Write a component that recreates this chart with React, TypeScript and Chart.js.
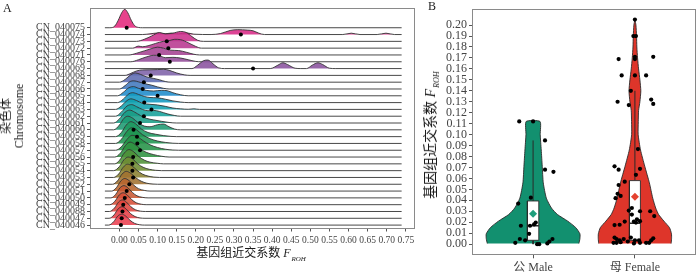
import React, { useEffect, useRef } from 'react';
import { Chart, registerables } from 'chart.js';

Chart.register(...registerables);

// ---------------- Panel A data ----------------
const CHROMOSOMES = [
  'CN_040075', 'CN_040074', 'CN_040073', 'CN_040072', 'CN_040071', 'CN_040076',
  'CN_040069', 'CN_040068', 'CN_040067', 'CN_040066', 'CN_040065', 'CN_040064',
  'CN_040063', 'CN_040062', 'CN_040061', 'CN_040060', 'CN_040059', 'CN_040058',
  'CN_040057', 'CN_040056', 'CN_040055', 'CN_040054', 'CN_040053', 'CN_040052',
  'CN_040051', 'CN_040050', 'CN_040049', 'CN_040088', 'CN_040047', 'CN_040046',
];

const X_TICKS_A = ['0.00', '0.05', '0.10', '0.15', '0.20', '0.25', '0.30', '0.35',
  '0.40', '0.45', '0.50', '0.55', '0.60', '0.65', '0.70', '0.75'];

const RIDGE_RANGE = [-0.038, 0.739];

// density outlines: [F_ROH, height in row units]
const D_040075 = [[-0.025, 0], [-0.012, 0.25], [-0.003, 1.1], [0.006, 2.2], [0.014, 2.7], [0.022, 2.2], [0.031, 1.1], [0.04, 0.3], [0.05, 0.04], [0.06, 0]];
const D_040074 = [[0.06, 0], [0.08, 0.1], [0.1, 0.22], [0.12, 0.12], [0.135, 0.2], [0.155, 0.1], [0.175, 0.25], [0.195, 0.05], [0.24, 0], [0.265, 0.15], [0.29, 0.6], [0.31, 0.72], [0.335, 0.65], [0.35, 0.55], [0.365, 0.2], [0.38, 0], [0.585, 0], [0.607, 0.2], [0.63, 0], [0.675, 0], [0.698, 0.2], [0.72, 0]];
const D_040073 = [[0.045, 0], [0.065, 0.3], [0.085, 0.8], [0.105, 1.3], [0.12, 1.1], [0.14, 1.2], [0.16, 1.45], [0.175, 1.3], [0.19, 0.7], [0.205, 0.15], [0.22, 0]];
const D_040072 = [[0.035, 0], [0.05, 0.3], [0.06, 0.2], [0.075, 0.35], [0.095, 0.7], [0.115, 1.0], [0.13, 1.1], [0.145, 1.3], [0.16, 1.25], [0.18, 0.8], [0.2, 0.25], [0.215, 0]];
const D_040071 = [[0.025, 0], [0.045, 0.25], [0.065, 0.6], [0.085, 0.95], [0.1, 1.15], [0.115, 1.0], [0.135, 0.7], [0.155, 0.65], [0.175, 0.4], [0.195, 0.1], [0.21, 0]];
const D_040076 = [[0.03, 0], [0.05, 0.3], [0.07, 0.7], [0.09, 0.95], [0.105, 0.9], [0.12, 0.6], [0.14, 0.65], [0.16, 0.55], [0.18, 0.3], [0.2, 0.05], [0.215, 0]];
const D_040069 = [[0.19, 0], [0.205, 0.5], [0.22, 1.15], [0.232, 1.25], [0.245, 0.7], [0.26, 0.1], [0.275, 0], [0.395, 0], [0.415, 0.5], [0.428, 0.85], [0.44, 0.6], [0.46, 0.05], [0.475, 0], [0.49, 0], [0.505, 0.5], [0.52, 0.85], [0.532, 0.6], [0.55, 0.05], [0.565, 0]];
const D_040068 = [[0.015, 0], [0.03, 0.3], [0.045, 0.65], [0.06, 0.8], [0.08, 0.82], [0.1, 0.85], [0.115, 0.9], [0.13, 0.75], [0.15, 0.35], [0.17, 0.08], [0.185, 0]];
const D_040067 = [[0.0, 0], [0.015, 0.4], [0.03, 1.1], [0.042, 1.35], [0.055, 1.15], [0.07, 0.8], [0.09, 0.55], [0.105, 0.35], [0.12, 0.1], [0.135, 0]];
const D_040066 = [[0.0, 0], [0.015, 0.5], [0.028, 1.1], [0.038, 1.2], [0.05, 1.05], [0.065, 0.8], [0.085, 0.55], [0.1, 0.3], [0.115, 0.1], [0.13, 0]];
const D_040065 = [[-0.005, 0], [0.01, 0.5], [0.025, 1.2], [0.037, 1.35], [0.05, 1.1], [0.07, 0.8], [0.09, 0.7], [0.11, 0.8], [0.125, 0.75], [0.14, 0.45], [0.16, 0.15], [0.18, 0]];
const D_040064 = [[-0.005, 0], [0.01, 0.5], [0.025, 1.3], [0.035, 1.45], [0.05, 1.2], [0.065, 0.9], [0.08, 0.75], [0.1, 0.7], [0.12, 0.5], [0.14, 0.25], [0.16, 0.08], [0.18, 0]];
const D_040063 = [[-0.01, 0], [0.005, 0.5], [0.02, 1.3], [0.03, 1.55], [0.045, 1.3], [0.06, 0.9], [0.08, 0.75], [0.1, 0.65], [0.12, 0.45], [0.14, 0.2], [0.16, 0.08], [0.18, 0.02], [0.195, 0.08], [0.21, 0]];
const D_040062 = [[-0.01, 0], [0.005, 0.6], [0.02, 1.5], [0.032, 1.7], [0.045, 1.4], [0.06, 1.0], [0.075, 0.8], [0.09, 0.85], [0.105, 0.7], [0.125, 0.35], [0.145, 0.1], [0.16, 0]];
const D_040061 = [[-0.015, 0], [0.0, 0.6], [0.015, 1.6], [0.027, 1.9], [0.04, 1.6], [0.055, 1.1], [0.07, 0.7], [0.09, 0.45], [0.11, 0.25], [0.13, 0.08], [0.15, 0]];
const D_040060 = [[-0.015, 0], [0.0, 0.7], [0.012, 1.7], [0.022, 2.0], [0.035, 1.7], [0.05, 1.0], [0.065, 0.55], [0.08, 0.45], [0.1, 0.75], [0.115, 0.85], [0.13, 0.45], [0.145, 0.1], [0.16, 0]];
const D_040059 = [[-0.01, 0], [0.005, 0.6], [0.018, 1.7], [0.03, 2.2], [0.042, 1.9], [0.058, 1.1], [0.075, 0.6], [0.095, 0.35], [0.115, 0.15], [0.135, 0.03], [0.15, 0]];
const D_040058 = [[-0.01, 0], [0.005, 0.6], [0.02, 1.8], [0.032, 2.3], [0.045, 2.0], [0.06, 1.3], [0.08, 0.7], [0.1, 0.35], [0.12, 0.15], [0.14, 0.03], [0.155, 0]];
const D_040057 = [[-0.01, 0], [0.005, 0.5], [0.02, 1.6], [0.033, 2.2], [0.047, 2.0], [0.062, 1.4], [0.08, 0.8], [0.1, 0.4], [0.12, 0.15], [0.14, 0.03], [0.155, 0]];
const D_040056 = [[-0.012, 0], [0.003, 0.6], [0.016, 1.7], [0.028, 2.2], [0.04, 1.9], [0.055, 1.2], [0.07, 0.7], [0.09, 0.35], [0.11, 0.12], [0.13, 0]];
const D_040055 = [[-0.012, 0], [0.0, 0.5], [0.013, 1.6], [0.025, 2.1], [0.037, 1.8], [0.05, 1.1], [0.065, 0.55], [0.08, 0.25], [0.1, 0.08], [0.115, 0]];
const D_040054 = [[-0.015, 0], [0.0, 0.6], [0.012, 1.6], [0.023, 2.0], [0.035, 1.7], [0.048, 1.0], [0.062, 0.5], [0.078, 0.2], [0.095, 0.05], [0.11, 0]];
const D_040053 = [[-0.015, 0], [-0.002, 0.5], [0.01, 1.5], [0.021, 1.95], [0.033, 1.7], [0.046, 1.05], [0.06, 0.5], [0.075, 0.2], [0.09, 0.05], [0.105, 0]];
const D_040052 = [[-0.018, 0], [-0.005, 0.5], [0.007, 1.5], [0.018, 1.9], [0.03, 1.6], [0.043, 0.95], [0.057, 0.45], [0.072, 0.15], [0.088, 0.03], [0.1, 0]];
const D_040051 = [[-0.02, 0], [-0.008, 0.5], [0.004, 1.5], [0.014, 1.85], [0.025, 1.55], [0.038, 0.85], [0.05, 0.35], [0.065, 0.1], [0.08, 0]];
const D_040050 = [[-0.022, 0], [-0.01, 0.5], [0.002, 1.5], [0.012, 1.8], [0.022, 1.5], [0.034, 0.8], [0.046, 0.3], [0.06, 0.08], [0.075, 0]];
const D_040049 = [[-0.025, 0], [-0.012, 0.5], [0.0, 1.45], [0.01, 1.75], [0.02, 1.45], [0.032, 0.75], [0.044, 0.28], [0.058, 0.06], [0.07, 0]];
const D_040088 = [[-0.026, 0], [-0.013, 0.5], [-0.002, 1.4], [0.008, 1.7], [0.018, 1.4], [0.03, 0.7], [0.042, 0.25], [0.055, 0.05], [0.068, 0]];
const D_040047 = [[-0.027, 0], [-0.014, 0.5], [-0.003, 1.4], [0.007, 1.7], [0.017, 1.4], [0.029, 0.7], [0.041, 0.25], [0.054, 0.05], [0.067, 0]];
const D_040046 = [[-0.028, 0], [-0.015, 0.5], [-0.004, 1.35], [0.006, 1.6], [0.016, 1.35], [0.028, 0.7], [0.04, 0.25], [0.053, 0.05], [0.066, 0]];

const RIDGES = [
  D_040075, D_040074, D_040073, D_040072, D_040071, D_040076, D_040069, D_040068,
  D_040067, D_040066, D_040065, D_040064, D_040063, D_040062, D_040061, D_040060,
  D_040059, D_040058, D_040057, D_040056, D_040055, D_040054, D_040053, D_040052,
  D_040051, D_040050, D_040049, D_040088, D_040047, D_040046,
];

const MEAN_FROH = [
  0.019, 0.318, 0.124, 0.128, 0.104, 0.132, 0.35, 0.082, 0.064, 0.061,
  0.10, 0.065, 0.084, 0.064, 0.054, 0.037, 0.046, 0.047, 0.054, 0.036,
  0.034, 0.034, 0.036, 0.026, 0.019, 0.014, 0.01, 0.008, 0.006, 0.004,
];

const RIDGE_COLORS = [
  '#E4287C', '#D82A86', '#CC308C', '#B8388F', '#A54292', '#934C98', '#8A529E', '#7E62A8',
  '#5F6CB2', '#4279BE', '#1E8BCB', '#1299C0', '#10A0AE', '#16A09A', '#1A9D86', '#1C9A72',
  '#1E9860', '#1F9550', '#249247', '#2E9240', '#4E9138', '#6E8C32', '#8A8030', '#A27230',
  '#B8652F', '#C85832', '#D64D37', '#E0443D', '#E63F46', '#EA4050',
];

// ---------------- Panel B data ----------------
const SEX_LABELS = ['公 Male', '母 Female'];
const Y_TICKS_B = ['0.00', '0.01', '0.02', '0.03', '0.04', '0.05', '0.06', '0.07', '0.08', '0.09',
  '0.10', '0.11', '0.12', '0.13', '0.14', '0.15', '0.16', '0.17', '0.18', '0.19', '0.20'];

const MALE_VIOLIN_Y = [0.0006, 0.005, 0.0094, 0.015, 0.021, 0.027, 0.033, 0.042, 0.056, 0.071, 0.086, 0.100, 0.112];
const MALE_VIOLIN_W = [0.45, 0.46, 0.46, 0.42, 0.34, 0.24, 0.18, 0.13, 0.10, 0.09, 0.08, 0.07, 0.068];
const FEMALE_VIOLIN_Y = [0.0006, 0.005, 0.0094, 0.015, 0.021, 0.027, 0.033, 0.042, 0.056, 0.071, 0.086, 0.100, 0.112, 0.122, 0.13, 0.14, 0.15, 0.16, 0.17, 0.18, 0.19, 0.20, 0.205];
const FEMALE_VIOLIN_W = [0.356, 0.36, 0.359, 0.34, 0.285, 0.233, 0.204, 0.175, 0.142, 0.097, 0.055, 0.032, 0.033, 0.036, 0.049, 0.058, 0.049, 0.036, 0.026, 0.019, 0.016, 0.01, 0.0];

// [min, q1, median, q3, upper whisker]
const MALE_BOX = [0.0, 0.0035, 0.0168, 0.0394, 0.0947];
const FEMALE_BOX = [0.0, 0.0035, 0.019, 0.058, 0.140];
const MALE_MEAN = 0.0277;
const FEMALE_MEAN = 0.0432;

const MALE_PTS_X = [0.864, 1.0, 1.117, 1.117, 1.2, 0.978, 0.854, 0.88, 0.97, 1.01, 1.026, 0.961, 0.87, 0.922, 0.825, 1.04, 1.06, 1.14, 1.16, 1.19];
const MALE_PTS_Y = [0.112, 0.112, 0.0947, 0.068, 0.066, 0.0424, 0.037, 0.0168, 0.0168, 0.018, 0.0197, 0.0094, 0.0047, 0.0035, 0.0012, 0.0, 0.0, 0.0006, 0.0024, 0.0047];
const FEMALE_PTS_X = [2.0, 1.985, 2.01, 1.84, 2.0, 2.0, 2.18, 1.87, 2.0, 2.11, 1.96, 1.83, 1.94, 2.16, 2.18, 2.03, 1.80, 1.84, 2.05, 2.01,
  1.90, 1.84, 1.83, 1.81, 1.86, 1.97, 1.94, 2.05, 2.15, 2.19, 1.97, 2.02, 2.05, 2.01, 1.99, 1.80, 1.85, 1.90, 1.80, 1.82,
  1.85, 1.89, 1.82, 1.86, 1.93, 1.96, 2.0, 2.04, 2.05, 2.11, 2.14, 2.16, 2.18, 1.79, 1.99];
const FEMALE_PTS_Y = [0.205, 0.190, 0.190, 0.169, 0.171, 0.169, 0.171, 0.154, 0.154, 0.154, 0.140, 0.130, 0.127, 0.132, 0.128, 0.0868, 0.071, 0.068, 0.0688, 0.0633,
  0.057, 0.054, 0.046, 0.042, 0.044, 0.033, 0.0306, 0.030, 0.030, 0.0256, 0.027, 0.0227, 0.021, 0.0197, 0.0206, 0.0174, 0.0177, 0.0206, 0.006, 0.0047,
  0.0035, 0.0047, 0.0012, 0.0018, 0.0024, 0.006, 0.0035, 0.0035, 0.0012, 0.0012, 0.0012, 0.0035, 0.0053, 0.0012, 0.0006];

const MALE_COLOR = '#12906F';
const FEMALE_COLOR = '#DE352A';

// ---------------- helpers ----------------
const SERIF = '"Liberation Serif", "Times New Roman", "Noto Sans CJK SC", serif';
const TEXT_COLOR = '#1a1a1a';
const TICK_COLOR = '#444';

const framePlugin = {
  id: 'frame',
  afterDraw(chart: any) {
    const { ctx, chartArea: a } = chart;
    ctx.save();
    ctx.strokeStyle = '#8a8a8a';
    ctx.lineWidth = 1;
    ctx.strokeRect(Math.round(a.left) + 0.5, Math.round(a.top) + 0.5, Math.round(a.right - a.left) - 1, Math.round(a.bottom - a.top) - 1);
    ctx.restore();
  },
};

function buildConfigA(): any {
  const N = CHROMOSOMES.length;
  const ridgeSets = RIDGES.map((pts, i) => {
    const base = N - 1 - i;
    const data = [
      { x: RIDGE_RANGE[0], y: base },
      ...pts.map(([x, h]) => ({ x, y: base + h })),
      { x: RIDGE_RANGE[1], y: base },
    ];
    return {
      type: 'line',
      data,
      borderColor: '#333',
      borderWidth: 0.9,
      backgroundColor: RIDGE_COLORS[i] + 'E0',
      fill: { value: base },
      pointRadius: 0,
      cubicInterpolationMode: 'monotone',
      order: 10 + base,
    };
  });
  const dots = {
    type: 'line',
    data: MEAN_FROH.map((v, i) => ({ x: v, y: N - 1 - i })),
    showLine: false,
    pointRadius: 2,
    pointBackgroundColor: '#000',
    pointBorderWidth: 0,
    order: 0,
  };
  return {
    type: 'line',
    data: { datasets: [dots, ...ridgeSets] },
    options: {
      responsive: false,
      animation: false,
      devicePixelRatio: 1,
      layout: { padding: { left: 0, right: 25, top: 0.5, bottom: 0 } },
      plugins: { legend: { display: false }, tooltip: { enabled: false } },
      scales: {
        x: {
          type: 'linear',
          min: -0.077,
          max: 0.774,
          afterBuildTicks: (s: any) => { s.ticks = X_TICKS_A.map((t) => ({ value: parseFloat(t) })); },
          afterFit: (s: any) => { s.height = 43.5; },
          ticks: {
            autoSkip: false, maxRotation: 0, minRotation: 0, padding: 3,
            color: TICK_COLOR, font: { family: SERIF, size: 9.5 },
            callback: (_v: any, i: number) => X_TICKS_A[i],
          },
          grid: { display: true, drawOnChartArea: false, drawTicks: true, tickLength: 3, color: '#555' },
          border: { display: false },
        },
        y: {
          type: 'linear',
          min: -0.5,
          max: 31.9,
          afterBuildTicks: (s: any) => { s.ticks = CHROMOSOMES.map((_c, i) => ({ value: i })); },
          afterFit: (s: any) => { s.width = 90; },
          ticks: {
            autoSkip: false, padding: 2,
            color: TICK_COLOR, font: { family: SERIF, size: 10 },
            callback: (v: any) => CHROMOSOMES[N - 1 - Number(v)],
          },
          grid: { display: true, drawOnChartArea: false, drawTicks: true, tickLength: 3, color: '#555' },
          border: { display: false },
        },
      },
    },
    plugins: [framePlugin],
  };
}

function violin(center: number, ys: number[], ws: number[]) {
  const right = ys.map((y, k) => ({ x: center + ws[k], y }));
  const left = ys.map((y, k) => ({ x: center - ws[k], y })).reverse();
  return [...right, ...left];
}

function boxSets(center: number, b: number[], halfW: number) {
  const [mn, q1, med, q3, up] = b;
  const lineBase = { type: 'line', pointRadius: 0, borderColor: '#2a2a2a', fill: false, tension: 0 };
  return [
    { ...lineBase, data: [{ x: center, y: q3 }, { x: center, y: up }], borderWidth: 1, order: 4 },
    { ...lineBase, data: [{ x: center, y: q1 }, { x: center, y: mn }], borderWidth: 1, order: 4 },
    {
      ...lineBase,
      data: [
        { x: center - halfW, y: q1 }, { x: center + halfW, y: q1 },
        { x: center + halfW, y: q3 }, { x: center - halfW, y: q3 }, { x: center - halfW, y: q1 },
      ],
      borderWidth: 0.9, fill: 'shape', backgroundColor: '#ffffff', order: 3,
    },
    { ...lineBase, data: [{ x: center - halfW, y: med }, { x: center + halfW, y: med }], borderWidth: 1.6, order: 2 },
  ];
}

function buildConfigB(): any {
  const violinBase = { type: 'line', pointRadius: 0, borderColor: '#2a2a2a', borderWidth: 0.9, fill: 'shape', tension: 0.2, order: 6 };
  const datasets = [
    { ...violinBase, data: violin(1, MALE_VIOLIN_Y, MALE_VIOLIN_W), backgroundColor: MALE_COLOR },
    { ...violinBase, data: violin(2, FEMALE_VIOLIN_Y, FEMALE_VIOLIN_W), backgroundColor: FEMALE_COLOR },
    ...boxSets(1, MALE_BOX, 0.056),
    ...boxSets(2, FEMALE_BOX, 0.054),
    {
      type: 'line', showLine: false, order: 1,
      data: MALE_PTS_X.map((x, i) => ({ x, y: MALE_PTS_Y[i] })),
      pointRadius: 2.1, pointBackgroundColor: '#000', pointBorderWidth: 0,
    },
    {
      type: 'line', showLine: false, order: 1,
      data: FEMALE_PTS_X.map((x, i) => ({ x, y: FEMALE_PTS_Y[i] })),
      pointRadius: 2.1, pointBackgroundColor: '#000', pointBorderWidth: 0,
    },
    {
      type: 'line', showLine: false, order: 0,
      data: [{ x: 1, y: MALE_MEAN }],
      pointStyle: 'rectRot', pointRadius: 4, pointBackgroundColor: '#1E9E7C', pointBorderWidth: 0,
    },
    {
      type: 'line', showLine: false, order: 0,
      data: [{ x: 2, y: FEMALE_MEAN }],
      pointStyle: 'rectRot', pointRadius: 4, pointBackgroundColor: '#E4412F', pointBorderWidth: 0,
    },
  ];
  return {
    type: 'line',
    data: { datasets },
    options: {
      responsive: false,
      animation: false,
      devicePixelRatio: 1,
      layout: { padding: { left: 0, right: 1, top: 1, bottom: 0 } },
      plugins: { legend: { display: false }, tooltip: { enabled: false } },
      scales: {
        x: {
          type: 'linear',
          min: 0.4,
          max: 2.6,
          afterBuildTicks: (s: any) => { s.ticks = SEX_LABELS.map((_l, i) => ({ value: i + 1 })); },
          afterFit: (s: any) => { s.height = 16.7; },
          ticks: {
            autoSkip: false, maxRotation: 0, padding: 2,
            color: TICK_COLOR, font: { family: SERIF, size: 12 },
            callback: (_v: any, i: number) => SEX_LABELS[i],
          },
          grid: { display: true, drawOnChartArea: false, drawTicks: true, tickLength: 3, color: '#555' },
          border: { display: false },
        },
        y: {
          type: 'linear',
          min: -0.0102,
          max: 0.2145,
          afterBuildTicks: (s: any) => { s.ticks = Y_TICKS_B.map((t) => ({ value: parseFloat(t) })); },
          afterFit: (s: any) => { s.width = 32; },
          ticks: {
            autoSkip: false, padding: 2,
            color: TICK_COLOR, font: { family: SERIF, size: 12 },
            callback: (_v: any, i: number) => Y_TICKS_B[i],
          },
          grid: { display: true, drawOnChartArea: false, drawTicks: true, tickLength: 3, color: '#555' },
          border: { display: false },
        },
      },
    },
    plugins: [framePlugin],
  };
}

function FRoh({ size }: { size: number }) {
  return (
    <span>
      <i>F</i>
      <span style={{ fontSize: size * 0.58, fontStyle: 'italic', position: 'relative', top: size * 0.3, marginLeft: 1 }}>ROH</span>
    </span>
  );
}

export default function App() {
  const refA = useRef<HTMLCanvasElement>(null);
  const refB = useRef<HTMLCanvasElement>(null);

  useEffect(() => {
    const a = new Chart(refA.current as HTMLCanvasElement, buildConfigA());
    const b = new Chart(refB.current as HTMLCanvasElement, buildConfigB());
    return () => { a.destroy(); b.destroy(); };
  }, []);

  const textBase: React.CSSProperties = { position: 'absolute', whiteSpace: 'nowrap', fontFamily: SERIF, color: TEXT_COLOR };

  return (
    <div style={{ position: 'fixed', left: 0, top: 0, width: 700, height: 272, background: '#fff', overflow: 'hidden' }}>
      <canvas ref={refA} width={440} height={272} style={{ position: 'absolute', left: 0, top: 0, width: 440, height: 272 }} />
      <canvas ref={refB} width={260} height={272} style={{ position: 'absolute', left: 440, top: 0, width: 260, height: 272 }} />

      <div style={{ ...textBase, left: 3, top: 2, fontSize: 12, lineHeight: '12px' }}>A</div>
      <div style={{ ...textBase, left: 428, top: 0, fontSize: 12, lineHeight: '12px' }}>B</div>

      <div style={{
        ...textBase, left: 12.5, top: 116, fontSize: 12, lineHeight: '13px', textAlign: 'center',
        transform: 'translate(-50%, -50%) rotate(-90deg)',
      }}>
        <div>染色体</div>
        <div>Chromosome</div>
      </div>

      <div style={{ ...textBase, left: 251, top: 247, fontSize: 12, lineHeight: '12px', transform: 'translateX(-50%)' }}>
        基因组近交系数 <FRoh size={12} />
      </div>

      <div style={{
        ...textBase, left: 432, top: 135, fontSize: 14, lineHeight: '14px',
        transform: 'translate(-50%, -50%) rotate(-90deg)',
      }}>
        基因组近交系数 <FRoh size={14} />
      </div>
    </div>
  );
}
